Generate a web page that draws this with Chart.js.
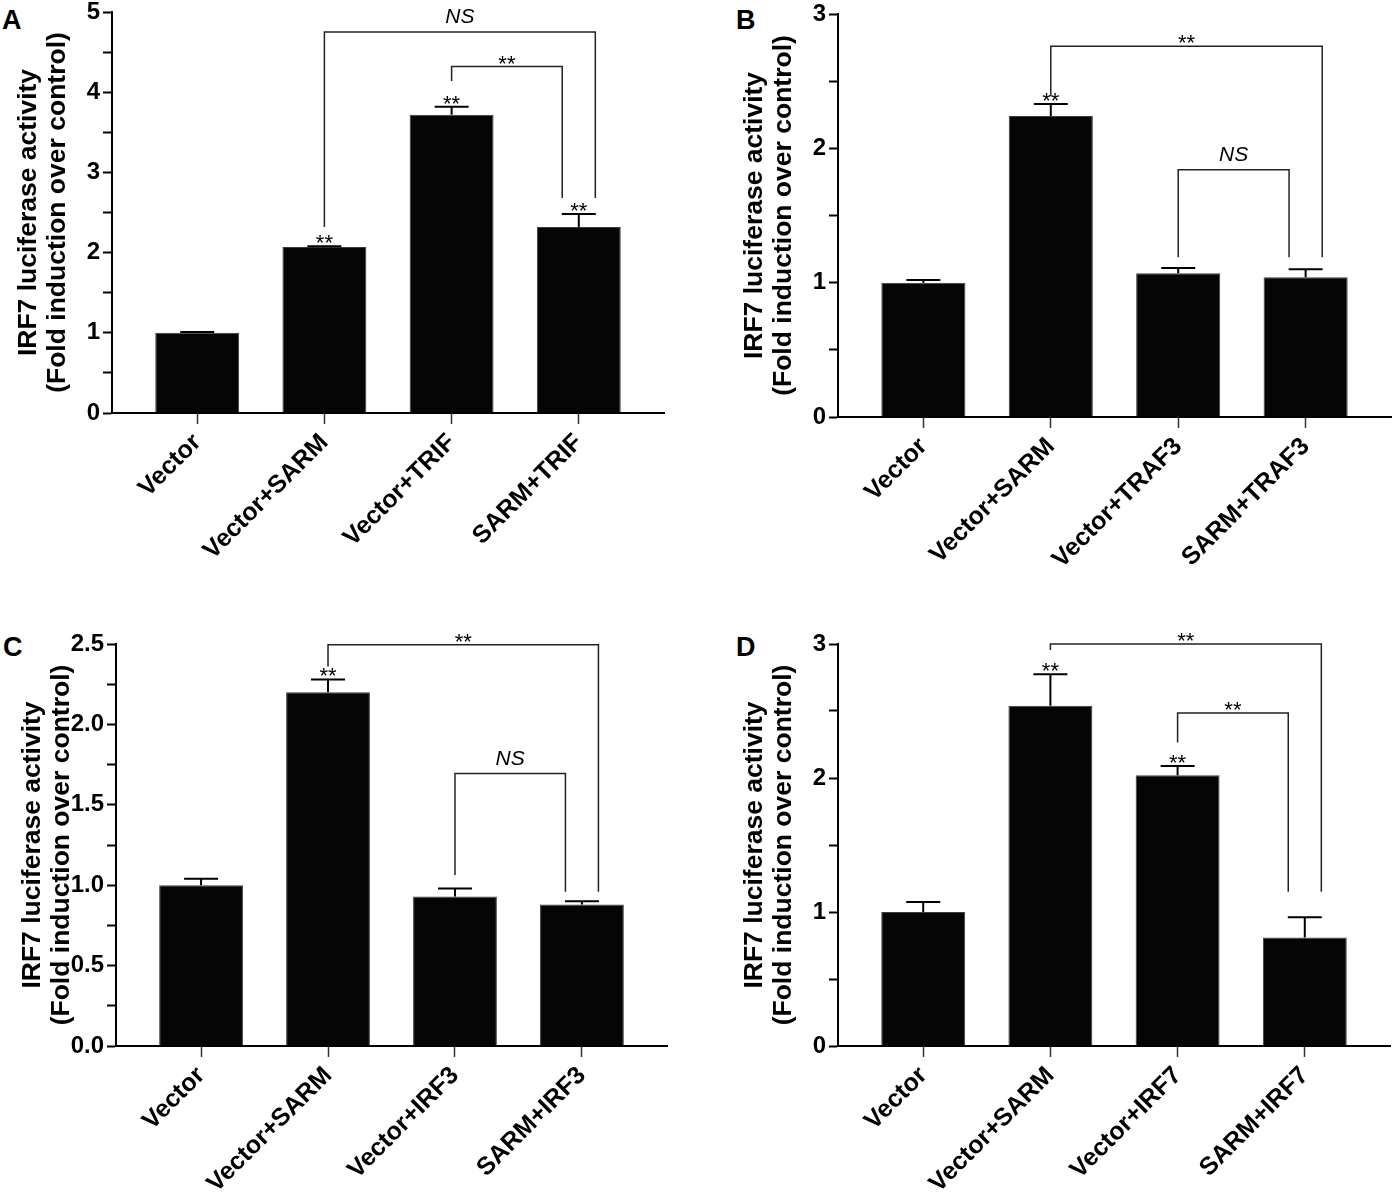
<!DOCTYPE html>
<html>
<head>
<meta charset="utf-8">
<script src="https://cdn.jsdelivr.net/npm/chart.js@4.4.1/dist/chart.umd.min.js"></script>
<style>
  html, body { margin: 0; padding: 0; background: #fff; }
  #wrap { position: relative; width: 1392px; height: 1198px; overflow: hidden; }
  canvas { position: absolute; }
  .tag { position: absolute; font: bold 27px "Liberation Sans", Arial, sans-serif; line-height: 1; color: #000; }
</style>
</head>
<body>
<div id="wrap">
  <div class="tag" style="left:2px;top:7px">A</div>
  <div class="tag" style="left:736px;top:7px">B</div>
  <div class="tag" style="left:3px;top:634px">C</div>
  <div class="tag" style="left:736px;top:634px">D</div>
  <canvas id="cA"></canvas>
  <canvas id="cB"></canvas>
  <canvas id="cC"></canvas>
  <canvas id="cD"></canvas>
</div>
<script>
'use strict';

// data (fold induction, mean and upper error)
const categoriesA = ['Vector', 'Vector+SARM', 'Vector+TRIF', 'SARM+TRIF'];
const categoriesB = ['Vector', 'Vector+SARM', 'Vector+TRAF3', 'SARM+TRAF3'];
const categoriesC = ['Vector', 'Vector+SARM', 'Vector+IRF3', 'SARM+IRF3'];
const categoriesD = ['Vector', 'Vector+SARM', 'Vector+IRF7', 'SARM+IRF7'];

const meanA = [1.00, 2.07, 3.72, 2.32];
const errA  = [0.01, 0.01, 0.10, 0.16];
const meanB = [1.00, 2.24, 1.07, 1.04];
const errB  = [0.02, 0.09, 0.04, 0.06];
const meanC = [1.00, 2.20, 0.93, 0.88];
const errC  = [0.04, 0.08, 0.05, 0.02];
const meanD = [1.00, 2.54, 2.02, 0.81];
const errD  = [0.075, 0.235, 0.07, 0.15];

const starsA = ['', '**', '**', '**'];
const starsB = ['', '**', '', ''];
const starsC = ['', '**', '', ''];
const starsD = ['', '**', '**', ''];

// [from bar, to bar, bracket level, left leg end, right leg end, label, side of right leg]
const bracketsA = [[1, 3, 4.75, 2.32, 2.68, 'NS', 1], [2, 3, 4.32, 4.14, 2.68, '**', -1]];
const bracketsB = [[1, 3, 2.76, 2.39, 1.19, '**', 1], [2, 3, 1.84, 1.19, 1.19, 'NS', -1]];
const bracketsC = [[1, 3, 2.496, 2.36, 0.96, '**', 1], [2, 3, 1.694, 1.063, 0.96, 'NS', -1]];
const bracketsD = [[1, 3, 3.0, 2.955, 1.152, '**', 1], [2, 3, 2.485, 2.264, 1.152, '**', -1]];

const yMaxes = [5, 3, 2.5, 3];
const ySteps = [0.5, 0.5, 0.25, 0.5];

const FONT = '"Liberation Sans", Arial, sans-serif';
const yTitle = ['IRF7 luciferase activity', '(Fold induction over control)'];

const sigPlugin = {
  id: 'sig',
  afterDatasetsDraw(chart, args, o) {
    const { ctx, scales: { x, y } } = chart;
    ctx.save();
    ctx.strokeStyle = '#000';
    ctx.fillStyle = '#000';
    ctx.textAlign = 'center';
    ctx.textBaseline = 'alphabetic';
    ctx.lineWidth = 2;
    o.mean.forEach((m, i) => {
      const px = x.getPixelForValue(i);
      const top = y.getPixelForValue(m + o.err[i]);
      ctx.beginPath();
      ctx.moveTo(px, y.getPixelForValue(m));
      ctx.lineTo(px, top);
      ctx.moveTo(px - 17, top);
      ctx.lineTo(px + 17, top);
      ctx.stroke();
      if (o.stars[i]) {
        ctx.font = '22px ' + FONT;
        ctx.fillText(o.stars[i], px, top + 4);
      }
    });
    ctx.lineWidth = 1.5;
    ctx.strokeStyle = '#222';
    o.brackets.forEach(([a, b, lv, la, lb, lab, side]) => {
      const x1 = x.getPixelForValue(a);
      const x2 = x.getPixelForValue(b + side * 0.13);
      const yl = y.getPixelForValue(lv);
      ctx.beginPath();
      ctx.moveTo(x1, y.getPixelForValue(la));
      ctx.lineTo(x1, yl);
      ctx.lineTo(x2, yl);
      ctx.lineTo(x2, y.getPixelForValue(lb));
      ctx.stroke();
      if (lab === 'NS') {
        ctx.font = 'italic 21px ' + FONT;
        ctx.fillText(lab, (x1 + x2) / 2, yl - 9);
      } else {
        ctx.font = '22px ' + FONT;
        ctx.fillText(lab, (x1 + x2) / 2, yl + 4);
      }
    });
    ctx.restore();
  }
};

// page geometry of each panel's plot area
const boxes = [
  { id: 'cA', left: 0,   top: -20, w: 696, h: 619, axisX: 112, areaTop: 12,  areaBottom: 413,  areaRight: 664 },
  { id: 'cB', left: 696, top: -20, w: 696, h: 619, axisX: 838, areaTop: 14,  areaBottom: 417,  areaRight: 1391 },
  { id: 'cC', left: 0,   top: 599, w: 696, h: 599, axisX: 116, areaTop: 644, areaBottom: 1046, areaRight: 667 },
  { id: 'cD', left: 696, top: 599, w: 696, h: 599, axisX: 838, areaTop: 644, areaBottom: 1046, areaRight: 1390 }
];

const panelData = [
  [categoriesA, meanA, errA, starsA, bracketsA],
  [categoriesB, meanB, errB, starsB, bracketsB],
  [categoriesC, meanC, errC, starsC, bracketsC],
  [categoriesD, meanD, errD, starsD, bracketsD]
];

boxes.forEach((b, k) => {
  const [cats, mean, err, stars, brackets] = panelData[k];
  const canvas = document.getElementById(b.id);
  canvas.style.left = b.left + 'px';
  canvas.style.top = b.top + 'px';
  canvas.width = b.w;
  canvas.height = b.h;
  canvas.style.width = b.w + 'px';
  canvas.style.height = b.h + 'px';
  const titleLH = 29;
  const titlePad = b.axisX - 83 - b.left - titleLH / 2;
  const half = k === 2;

  new Chart(canvas.getContext('2d'), {
    type: 'bar',
    data: {
      datasets: [{
        data: mean.map((v, i) => ({ x: i, y: v })),
        backgroundColor: '#050505',
        borderColor: '#3c3c3c',
        borderWidth: 1,
        categoryPercentage: 1,
        barPercentage: 0.66
      }]
    },
    options: {
      responsive: false,
      animation: false,
      layout: { padding: { left: 0, top: b.areaTop - b.top, right: b.left + b.w - b.areaRight, bottom: 0 } },
      plugins: {
        legend: { display: false },
        tooltip: { enabled: false },
        sig: { mean, err, stars, brackets }
      },
      scales: {
        x: {
          type: 'linear',
          offset: false,
          min: -0.67,
          max: 3.67,
          afterBuildTicks: s => { s.ticks = cats.map((c, i) => ({ value: i })); },
          afterFit: s => { s.height = b.top + b.h - b.areaBottom; },
          ticks: {
            autoSkip: false,
            minRotation: 45,
            maxRotation: 45,
            padding: 4,
            color: '#000',
            font: { family: FONT, size: 25, weight: 'bold' },
            callback: v => cats[v]
          },
          grid: { offset: false, drawOnChartArea: false, drawTicks: true, tickLength: 11, tickWidth: 1.5, tickColor: '#333' },
          border: { color: '#000', width: 2 }
        },
        y: {
          min: 0,
          max: yMaxes[k],
          afterFit: s => { s.width = b.axisX - b.left; },
          ticks: {
            stepSize: ySteps[k],
            padding: 3,
            color: '#000',
            font: { family: FONT, size: 24, weight: 'bold' },
            callback: v => {
              if (half) return Math.abs(v * 2 - Math.round(v * 2)) < 1e-6 ? v.toFixed(1) : '';
              return Number.isInteger(v) ? v : '';
            }
          },
          grid: { drawOnChartArea: false, drawTicks: true, tickLength: 9, tickWidth: 2, tickColor: '#000' },
          border: { color: '#000', width: 2 },
          title: {
            display: true,
            text: yTitle,
            color: '#000',
            font: { family: FONT, size: 26.5, weight: 'bold', lineHeight: titleLH / 26.5 },
            padding: { top: titlePad, bottom: 0 }
          }
        }
      }
    },
    plugins: [sigPlugin]
  });
});
</script>
</body>
</html>
